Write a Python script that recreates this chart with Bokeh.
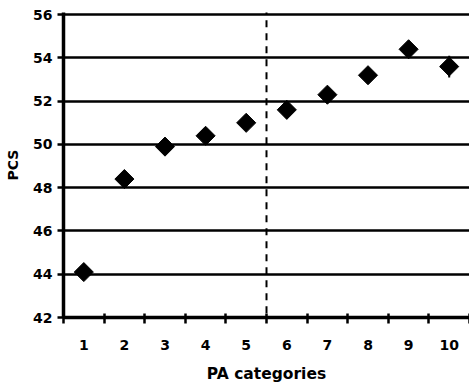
import numpy as np
from bokeh.plotting import figure
from bokeh.models import FixedTicker, ColumnDataSource, Range1d
from bokeh.embed import file_html
from bokeh.resources import INLINE

# Data
categories = [1, 2, 3, 4, 5, 6, 7, 8, 9, 10]
pcs = [44.1, 48.4, 49.9, 50.4, 51.0, 51.6, 52.3, 53.2, 54.4, 53.6]
err = [0.3, 0.25, 0.2, 0.2, 0.2, 0.2, 0.25, 0.3, 0.35, 0.5]
y_ticks = [42, 44, 46, 48, 50, 52, 54, 56]
split_at = 5.5

FONT = "DejaVu Sans"

src = ColumnDataSource(dict(
    x=categories, y=pcs,
    lo=[v - e for v, e in zip(pcs, err)],
    hi=[v + e for v, e in zip(pcs, err)],
))

p = figure(width=469, height=385, output_backend="svg", toolbar_location=None,
           x_range=Range1d(0.5, 10.5), y_range=Range1d(42, 56.1),
           min_border_left=63, min_border_right=0, min_border_top=12,
           min_border_bottom=67)
p.outline_line_color = None
p.background_fill_color = "white"
p.border_fill_color = "white"

# Grid
p.xgrid.visible = False
p.ygrid.ticker = FixedTicker(ticks=y_ticks[1:])
p.ygrid.grid_line_color = "black"
p.ygrid.grid_line_width = 2.5

# Y axis
p.yaxis.ticker = FixedTicker(ticks=y_ticks)
p.yaxis.axis_line_width = 3.5
p.yaxis.axis_line_color = "black"
p.yaxis.major_tick_in = 0
p.yaxis.major_tick_out = 6
p.yaxis.major_tick_line_width = 2.5
p.yaxis.minor_tick_line_color = None
p.yaxis.major_label_standoff = 5
p.yaxis.major_label_text_font = FONT
p.yaxis.major_label_text_font_style = "bold"
p.yaxis.major_label_text_font_size = "14px"
p.yaxis.major_label_text_color = "black"
p.yaxis.axis_label = "PCS"
p.yaxis.axis_label_text_font = FONT
p.yaxis.axis_label_text_font_style = "bold"
p.yaxis.axis_label_text_font_size = "14px"
p.yaxis.axis_label_text_color = "black"
p.yaxis.axis_label_standoff = 9

# X axis
bounds = [c - 0.5 for c in categories] + [categories[-1] + 0.5]
p.xaxis.ticker = FixedTicker(ticks=categories, minor_ticks=bounds)
p.xaxis.axis_line_width = 3.5
p.xaxis.axis_line_color = "black"
p.xaxis.major_tick_in = 0
p.xaxis.major_tick_out = 0
p.xaxis.minor_tick_in = 4
p.xaxis.minor_tick_out = 6
p.xaxis.minor_tick_line_width = 2.5
p.xaxis.minor_tick_line_color = "black"
p.xaxis.major_label_standoff = 16
p.xaxis.major_label_text_font = FONT
p.xaxis.major_label_text_font_style = "bold"
p.xaxis.major_label_text_font_size = "14px"
p.xaxis.major_label_text_color = "black"
p.xaxis.axis_label = "PA categories"
p.xaxis.axis_label_text_font = FONT
p.xaxis.axis_label_text_font_style = "bold"
p.xaxis.axis_label_text_font_size = "15.5px"
p.xaxis.axis_label_text_color = "black"
p.xaxis.axis_label_standoff = 12

# Dashed divider
p.segment(x0=[split_at], y0=[41.6], x1=[split_at], y1=[56.2],
          line_color="black", line_width=2, line_dash="7 6")

# Error bars
p.segment(x0="x", y0="lo", x1="x", y1="hi", source=src,
          line_color="black", line_width=2)

# Markers (diamonds)
p.scatter(x="x", y="y", source=src, marker="square", angle=np.pi / 4,
          size=13.5, fill_color="black", line_color="black")

open("out.html", "w").write(file_html(p, INLINE))
